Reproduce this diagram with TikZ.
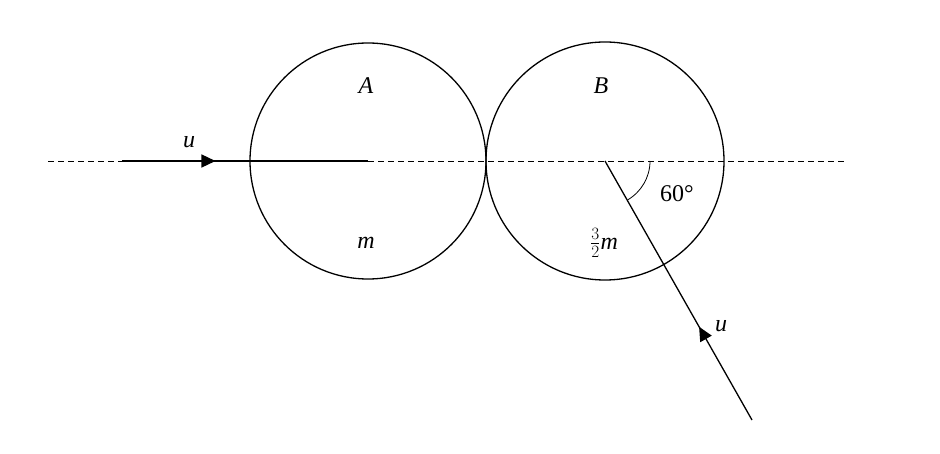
\documentclass[tikz,border=0pt]{standalone}
\usepackage{fontspec}
\setmainfont{Liberation Serif}
\usetikzlibrary{arrows.meta,decorations.markings,calc}
\begin{document}
\begin{tikzpicture}[x=1pt,y=-1pt,line width=1.3pt,
  lbl/.style={font=\fontsize{24}{26}\selectfont\itshape},
  midarrow/.style={postaction={decorate},decoration={markings,mark=at position #1 with {\arrow{Triangle[length=14pt,width=13pt]}}}}]
\useasboundingbox (0,0) rectangle (940,454);
\coordinate (L) at (48,161);
\coordinate (R) at (845,161);
\draw[dashed,line width=0.7pt,dash pattern=on 6pt off 4pt] (L) -- (R);
\node[circle,draw,minimum size=236pt,inner sep=0pt] (A) at (368,161) {};
\node[circle,draw,minimum size=238pt,inner sep=0pt] (B) at (605,161) {};
\coordinate (s) at (122,161);
\draw[midarrow=0.38] (s) -- (A.center);
\coordinate (e) at (752,420);
\draw[midarrow=0.36] (e) -- (B.center);
\draw[line width=0.8pt] ($(B.center)+(45,0)$) arc[start angle=0,end angle=60,radius=45];
\node[lbl] (la) at (366,86) {A};
\node[lbl] (lb) at (601,86) {B};
\node[lbl] (lm) at (366,243) {m};
\node[font=\fontsize{24}{26}\selectfont] (lm2) at (604,243) {$\frac{3}{2}$\textit{m}};
\node[lbl] (u1) at (189,142) {u};
\node[lbl] (u2) at (721,326) {u};
\node[font=\fontsize{24}{26}\selectfont] (ang) at (677,194) {60°};
\end{tikzpicture}
\end{document}
